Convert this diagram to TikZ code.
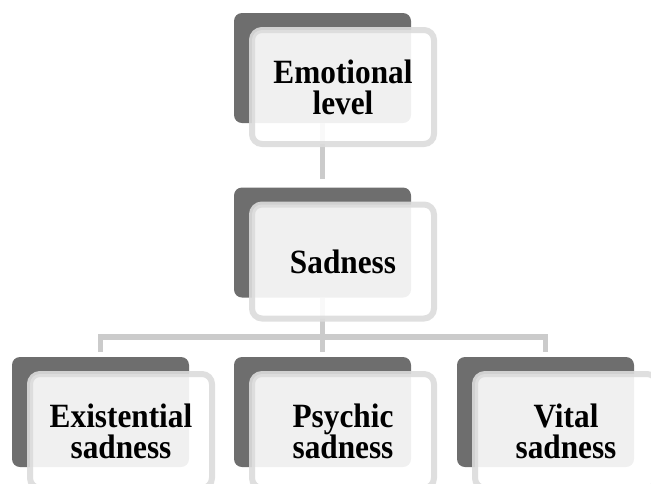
\documentclass[tikz,border=0pt]{standalone}
\usepackage{fontspec}
\setmainfont[FakeStretch=0.92]{Liberation Serif}
\usetikzlibrary{positioning}
\definecolor{boxdark}{HTML}{6E6E6E}
\definecolor{boxedge}{HTML}{DCDCDC}
\definecolor{linkgray}{HTML}{CBCBCB}

\begin{document}
\begin{tikzpicture}[
		x=1pt, y=-1pt,
		back/.style={rectangle, fill=boxdark, rounded corners=8pt, inner sep=0pt, minimum width=177pt, minimum height=110pt},
		front/.style={rectangle, draw=boxedge, line width=6pt, fill=white, opacity=0.9, text opacity=1, rounded corners=10pt, inner sep=0pt, minimum width=182pt, minimum height=114pt, align=center, font=\fontsize{34}{31}\selectfont\bfseries},
		link/.style={draw=linkgray, line width=5.5pt}
	]

	\useasboundingbox (0,0) rectangle (651,483);

	\node[back] (emob) at (322.5,68) {};
	\node[back] (sadb) at (322.5,242.5) {};
	\node[back] (exb) at (100.5,412) {};
	\node[back] (psyb) at (322.5,412) {};
	\node[back] (vitb) at (545.5,412) {};

	\draw[link, shorten >=8pt] (emob.south) -- (sadb.north);

	\foreach \j in {exb, psyb, vitb}
		\draw[link, shorten <=5pt] (\j.north) -- ++(0,-20) -| (sadb.south);

	\node[front] (emo) at ([shift={(20.5,19)}]emob.center) {Emotional\\level};
	\node[front] (sad) at ([shift={(20.5,19)}]sadb.center) {Sadness};
	\node[front] (ex) at ([shift={(20.5,19)}]exb.center) {Existential\\sadness};
	\node[front] (psy) at ([shift={(20.5,19)}]psyb.center) {Psychic\\sadness};
	\node[front] (vit) at ([shift={(20.5,19)}]vitb.center) {Vital\\sadness};

\end{tikzpicture}
\end{document}
